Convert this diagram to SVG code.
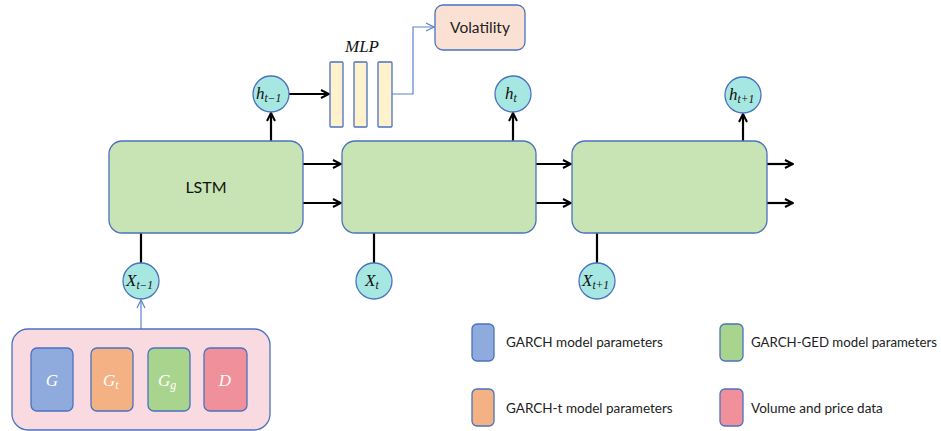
<svg xmlns="http://www.w3.org/2000/svg" width="941" height="431" viewBox="0 0 941 431">
<defs>
<style>
.cell{fill:#C8E3B4;stroke:#4A72C0;stroke-width:1.3}
.circ{fill:#A7E7E1;stroke:#4A72C0;stroke-width:1.3}
.math{font-family:"Liberation Serif","DejaVu Serif",serif;font-style:italic;fill:#111}
.lbl{font-family:Lato,"Liberation Sans",sans-serif;font-size:13.5px;fill:#222}
.bk{stroke:#000;stroke-width:2.2;fill:none}
.bl{stroke:#5B84CF;stroke-width:1.2;fill:none}
.bar{fill:#FFF2CC;stroke:#4A72C0;stroke-width:1.3}
.wm{font-family:"Liberation Serif","DejaVu Serif",serif;font-style:italic;fill:#fff;font-size:17px}
</style>
<marker id="ah" viewBox="0 0 10 10" refX="9" refY="5" markerWidth="10" markerHeight="10" markerUnits="userSpaceOnUse" orient="auto">
<path d="M1,1 L9,5 L1,9" fill="none" stroke="#000" stroke-width="2"/>
</marker>
<marker id="ab" viewBox="0 0 10 10" refX="9" refY="5" markerWidth="10" markerHeight="10" markerUnits="userSpaceOnUse" orient="auto">
<path d="M1,1 L9,5 L1,9" fill="none" stroke="#5B84CF" stroke-width="1.2"/>
</marker>
</defs>
<rect width="941" height="431" fill="#fff"/>

<g id="connectors">
<line class="bk" x1="303" y1="164" x2="341" y2="164" marker-end="url(#ah)"/>
<line class="bk" x1="303" y1="203" x2="341" y2="203" marker-end="url(#ah)"/>
<line class="bk" x1="536" y1="164" x2="571" y2="164" marker-end="url(#ah)"/>
<line class="bk" x1="536" y1="203" x2="571" y2="203" marker-end="url(#ah)"/>
<line class="bk" x1="767" y1="164" x2="793" y2="164" marker-end="url(#ah)"/>
<line class="bk" x1="767" y1="203" x2="793" y2="203" marker-end="url(#ah)"/>
<line class="bk" x1="271" y1="141" x2="271" y2="113" marker-end="url(#ah)"/>
<line class="bk" x1="513" y1="141" x2="513" y2="113" marker-end="url(#ah)"/>
<line class="bk" x1="743" y1="141" x2="743" y2="114" marker-end="url(#ah)"/>
<line class="bk" x1="141" y1="233" x2="141" y2="263"/>
<line class="bk" x1="374" y1="233" x2="374" y2="263"/>
<line class="bk" x1="597" y1="233" x2="597" y2="263"/>
<line class="bk" x1="289" y1="94" x2="329" y2="94" marker-end="url(#ah)"/>
<line class="bl" x1="141" y1="329" x2="141" y2="300" marker-end="url(#ab)"/>
<polyline class="bl" points="392,94 413,94 413,27 434,27" marker-end="url(#ab)"/>
</g>

<g id="lstm1"><rect class="cell" x="109" y="141" width="194" height="92" rx="13"/>
<text x="206" y="193" text-anchor="middle" font-family="Lato,'Liberation Sans',sans-serif" font-size="16" fill="#111">LSTM</text></g>
<g id="lstm2"><rect class="cell" x="342" y="141" width="194" height="92" rx="13"/></g>
<g id="lstm3"><rect class="cell" x="572" y="141" width="195" height="92" rx="13"/></g>

<g id="h_tm1"><circle class="circ" cx="271" cy="94" r="18"/>
<text class="math" x="256" y="99" font-size="17">h<tspan font-size="11.5" dy="3">t−1</tspan></text></g>
<g id="h_t"><circle class="circ" cx="513" cy="94" r="18"/>
<text class="math" x="505" y="99" font-size="17">h<tspan font-size="11.5" dy="3">t</tspan></text></g>
<g id="h_tp1"><circle class="circ" cx="743" cy="95" r="18"/>
<text class="math" x="729" y="100" font-size="17">h<tspan font-size="11.5" dy="3">t+1</tspan></text></g>

<g id="x_tm1"><circle class="circ" cx="141" cy="281" r="18"/>
<text class="math" x="126" y="286" font-size="17">X<tspan font-size="11.5" dy="3">t−1</tspan></text></g>
<g id="x_t"><circle class="circ" cx="374" cy="281" r="18"/>
<text class="math" x="365" y="286" font-size="17">X<tspan font-size="11.5" dy="3">t</tspan></text></g>
<g id="x_tp1"><circle class="circ" cx="597" cy="281" r="18"/>
<text class="math" x="582" y="286" font-size="17">X<tspan font-size="11.5" dy="3">t+1</tspan></text></g>

<g id="mlp">
<text class="math" x="362" y="52" text-anchor="middle" font-size="17">MLP</text>
<rect class="bar" x="330" y="62" width="13" height="65" rx="1"/>
<rect class="bar" x="354" y="62" width="13" height="65" rx="1"/>
<rect class="bar" x="378" y="62" width="14" height="65" rx="1"/>
</g>

<g id="volatility"><rect x="435" y="5" width="90" height="45" rx="8" fill="#FBE1D3" stroke="#4A72C0" stroke-width="1.3"/>
<text x="480" y="33" text-anchor="middle" font-family="Lato,'Liberation Sans',sans-serif" font-size="15.5" fill="#222">Volatility</text></g>

<g id="inputs">
<rect x="12" y="329" width="258" height="101" rx="16" fill="#F9DAE0" stroke="#4A72C0" stroke-width="1.3"/>
<rect x="31" y="348" width="42" height="63" rx="6" fill="#8FAADC" stroke="#4A72C0" stroke-width="1.3"/>
<rect x="91" y="348" width="42" height="63" rx="6" fill="#F4B183" stroke="#4A72C0" stroke-width="1.3"/>
<rect x="148" y="348" width="42" height="63" rx="6" fill="#A9D48E" stroke="#4A72C0" stroke-width="1.3"/>
<rect x="204" y="348" width="43" height="63" rx="6" fill="#F0909A" stroke="#4A72C0" stroke-width="1.3"/>
<text class="wm" x="52" y="386" text-anchor="middle">G</text>
<text class="wm" x="103" y="386">G<tspan font-size="12" dy="3">t</tspan></text>
<text class="wm" x="158" y="386">G<tspan font-size="12" dy="3">g</tspan></text>
<text class="wm" x="225" y="386" text-anchor="middle">D</text>
</g>

<g id="legend">
<rect x="472" y="324" width="22" height="37" rx="5" fill="#8FAADC" stroke="#4A72C0" stroke-width="1.3"/>
<text class="lbl" x="506" y="347">GARCH model parameters</text>
<rect x="720" y="324" width="23" height="37" rx="5" fill="#A9D48E" stroke="#4A72C0" stroke-width="1.3"/>
<text class="lbl" x="751" y="347" textLength="186" lengthAdjust="spacingAndGlyphs">GARCH-GED model parameters</text>
<rect x="472" y="389" width="22" height="37" rx="5" fill="#F4B183" stroke="#4A72C0" stroke-width="1.3"/>
<text class="lbl" x="506" y="413">GARCH-t model parameters</text>
<rect x="720" y="389" width="23" height="37" rx="5" fill="#F0909A" stroke="#4A72C0" stroke-width="1.3"/>
<text class="lbl" x="751" y="413">Volume and price data</text>
</g>
</svg>
